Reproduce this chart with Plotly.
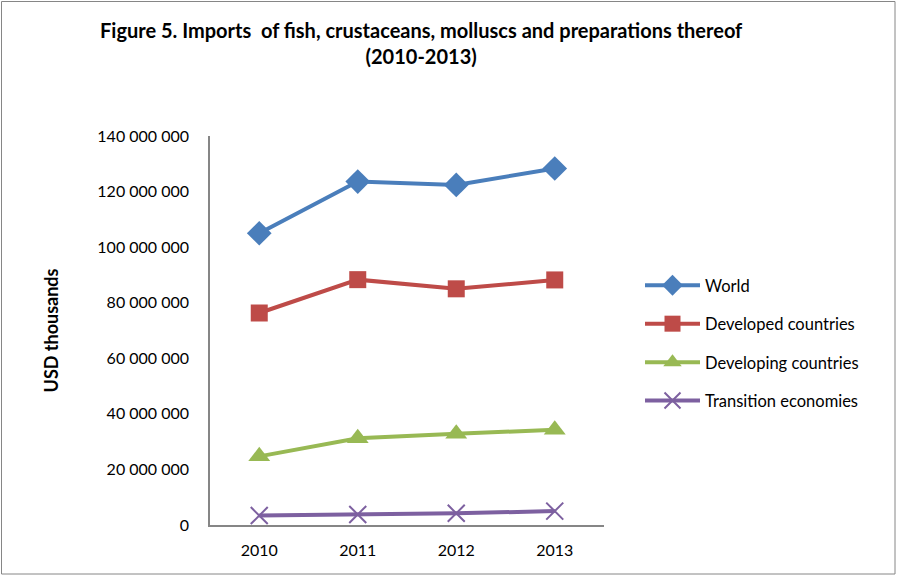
import plotly.graph_objects as go

years = ["2010", "2011", "2012", "2013"]
world = [105_000_000, 123_600_000, 122_400_000, 128_300_000]
developed = [76_300_000, 88_300_000, 85_000_000, 88_200_000]
developing = [24_700_000, 31_200_000, 32_800_000, 34_300_000]
transition = [3_400_000, 3_800_000, 4_200_000, 5_000_000]

series = [
    ("World", world, "#4A7EBB", "diamond", 19),
    ("Developed countries", developed, "#BE4B48", "square", 17),
    ("Developing countries", developing, "#98B954", "triangle-up", 19),
    ("Transition economies", transition, "#7D60A0", "x-thin", 17),
]

FONT = "Lato"
W, H = 897, 575
L, R, T, B = 210, 604, 136, 525

fig = go.Figure()
for i, (name, vals, col, sym, sz) in enumerate(series):
    marker = dict(symbol=sym, size=sz, color=col)
    if sym == "x-thin":
        marker["line"] = dict(color=col, width=2)
    fig.add_trace(go.Scatter(
        x=years, y=vals, name=name, mode="lines+markers",
        line=dict(color=col, width=4), marker=marker,
        legendgroup=f"g{i}",
    ))

fig.update_layout(
    width=W, height=H,
    margin=dict(l=L, r=W - R, t=T, b=H - B),
    paper_bgcolor="white", plot_bgcolor="white",
    font=dict(family=FONT, size=16, color="black"),
    separators=". ",
    legend=dict(
        x=(640 - L) / (R - L), xanchor="left",
        y=(B - 268) / (B - T), yanchor="top",
        font=dict(family=FONT, size=16.5),
        tracegroupgap=14,
        itemwidth=55,
        bgcolor="rgba(0,0,0,0)",
    ),
    xaxis=dict(
        type="category", range=[-0.5, 3.5], showgrid=False, showline=True,
        linecolor="#868686", linewidth=1.5,
        ticks="", tickfont=dict(size=16), ticklabelstandoff=10,
    ),
    yaxis=dict(
        range=[0, 140_000_000], dtick=20_000_000, tickformat=",d",
        showgrid=False, showline=True, linecolor="#868686", linewidth=1.5,
        ticks="", ticklabelstandoff=16,
        tickfont=dict(size=16), zeroline=False,
        title=dict(text="<b>USD thousands</b>", font=dict(size=18), standoff=34),
    ),
    annotations=[dict(
        text="<b>Figure 5. Imports  of fish, crustaceans, molluscs and preparations thereof<br>(2010-2013)</b>",
        xref="paper", yref="paper",
        x=(421 - L) / (R - L), xanchor="center",
        y=(B - 43) / (B - T), yanchor="middle",
        showarrow=False, align="center",
        font=dict(family=FONT, size=20, color="black"),
    )],
    shapes=[dict(
        type="rect", xref="paper", yref="paper",
        x0=(1.5 - L) / (R - L), x1=(895 - L) / (R - L),
        y0=(B - 574) / (B - T), y1=(B - 1.5) / (B - T),
        line=dict(color="#868686", width=1), fillcolor="rgba(0,0,0,0)", layer="below",
    )],
)

fig.write_html("out.html")
